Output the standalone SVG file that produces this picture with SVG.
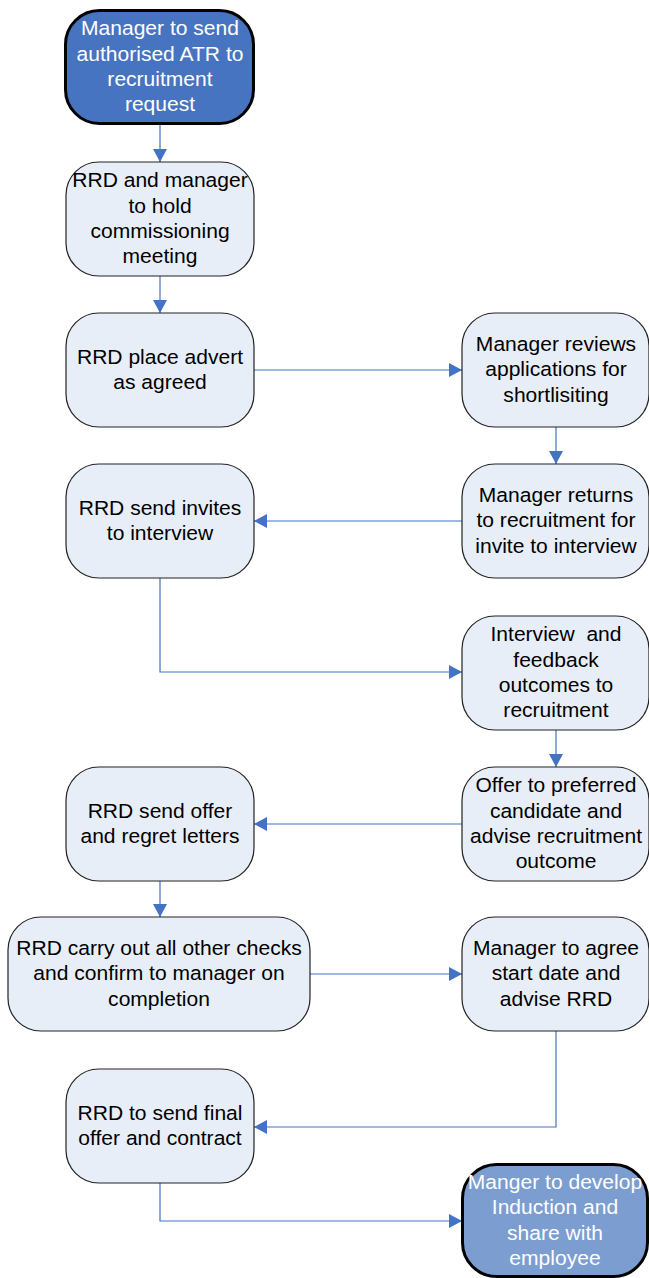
<svg xmlns="http://www.w3.org/2000/svg" width="649" height="1278" viewBox="0 0 649 1278">
<style>
.n{fill:#E8EEF8;stroke:#222;stroke-width:1.2}
.d1{fill:#4774C0;stroke:#000;stroke-width:3}
.d2{fill:#7B9DD0;stroke:#000;stroke-width:3}
text{font-family:"Liberation Sans",Arial,sans-serif;font-size:19.5px;text-anchor:middle;white-space:pre}
.b{fill:#000}
.w{fill:#fff}
.c{fill:none;stroke:#4472C4;stroke-width:1.2;marker-end:url(#ah)}
</style>
<defs>
<marker id="ah" markerUnits="userSpaceOnUse" viewBox="0 0 13 14" refX="13" refY="7" markerWidth="13" markerHeight="14" orient="auto">
<path d="M0,0 L13,7 L0,14 Z" fill="#4472C4"/>
</marker>
</defs>
<rect width="649" height="1278" fill="#fff"/>
<g id="connectors">
<path class="c" d="M160,125 V162"/>
<path class="c" d="M160,276 V313"/>
<path class="c" d="M254,370 H462"/>
<path class="c" d="M556,427 V464"/>
<path class="c" d="M462,521 H254"/>
<path class="c" d="M160,578 V672 H462"/>
<path class="c" d="M556,730 V767"/>
<path class="c" d="M462,824 H254"/>
<path class="c" d="M160,881 V917"/>
<path class="c" d="M310,974 H462"/>
<path class="c" d="M556,1031 V1127 H254"/>
<path class="c" d="M160,1183 V1221 H462"/>
</g>
<g id="n1">
<rect class="d1" x="65.5" y="10.5" width="188" height="113" rx="34"/>
<text class="w" transform="translate(160 0) scale(1.08 1)"><tspan x="0" y="35.5">Manager to send</tspan><tspan x="0" y="60.8">authorised ATR to</tspan><tspan x="0" y="86.1">recruitment</tspan><tspan x="0" y="111.4">request</tspan></text>
</g>
<g id="n2">
<rect class="n" x="66" y="162" width="188" height="114" rx="33"/>
<text class="b" transform="translate(160 0) scale(1.08 1)"><tspan x="0" y="187.5">RRD and manager</tspan><tspan x="0" y="212.8">to hold</tspan><tspan x="0" y="238.1">commissioning</tspan><tspan x="0" y="263.4">meeting</tspan></text>
</g>
<g id="n3">
<rect class="n" x="66" y="313" width="188" height="114" rx="33"/>
<text class="b" transform="translate(160 0) scale(1.08 1)"><tspan x="0" y="363.8">RRD place advert</tspan><tspan x="0" y="389.1">as agreed</tspan></text>
</g>
<g id="n4">
<rect class="n" x="462" y="313" width="187" height="114" rx="33"/>
<text class="b" transform="translate(556 0) scale(1.08 1)"><tspan x="0" y="351.2">Manager reviews</tspan><tspan x="0" y="376.5">applications for</tspan><tspan x="0" y="401.8">shortlisiting</tspan></text>
</g>
<g id="n5">
<rect class="n" x="462" y="464" width="187" height="114" rx="33"/>
<text class="b" transform="translate(556 0) scale(1.08 1)"><tspan x="0" y="502.2">Manager returns</tspan><tspan x="0" y="527.5">to recruitment for</tspan><tspan x="0" y="552.8">invite to interview</tspan></text>
</g>
<g id="n6">
<rect class="n" x="66" y="464" width="188" height="114" rx="33"/>
<text class="b" transform="translate(160 0) scale(1.08 1)"><tspan x="0" y="514.8">RRD send invites</tspan><tspan x="0" y="540.1">to interview</tspan></text>
</g>
<g id="n7">
<rect class="n" x="462" y="616" width="187" height="114" rx="33"/>
<text class="b" transform="translate(556 0) scale(1.08 1)"><tspan x="0" y="641.5">Interview  and</tspan><tspan x="0" y="666.8">feedback</tspan><tspan x="0" y="692.1">outcomes to</tspan><tspan x="0" y="717.4">recruitment</tspan></text>
</g>
<g id="n8">
<rect class="n" x="462" y="767" width="187" height="114" rx="33"/>
<text class="b" transform="translate(556 0) scale(1.08 1)"><tspan x="0" y="792.5">Offer to preferred</tspan><tspan x="0" y="817.8">candidate and</tspan><tspan x="0" y="843.1">advise recruitment</tspan><tspan x="0" y="868.4">outcome</tspan></text>
</g>
<g id="n9">
<rect class="n" x="66" y="767" width="188" height="114" rx="33"/>
<text class="b" transform="translate(160 0) scale(1.08 1)"><tspan x="0" y="817.8">RRD send offer</tspan><tspan x="0" y="843.1">and regret letters</tspan></text>
</g>
<g id="n10">
<rect class="n" x="8" y="917" width="302" height="114" rx="33"/>
<text class="b" transform="translate(159 0) scale(1.08 1)"><tspan x="0" y="955.2">RRD carry out all other checks</tspan><tspan x="0" y="980.5">and confirm to manager on</tspan><tspan x="0" y="1005.8">completion</tspan></text>
</g>
<g id="n11">
<rect class="n" x="462" y="917" width="187" height="114" rx="33"/>
<text class="b" transform="translate(556 0) scale(1.08 1)"><tspan x="0" y="955.2">Manager to agree</tspan><tspan x="0" y="980.5">start date and</tspan><tspan x="0" y="1005.8">advise RRD</tspan></text>
</g>
<g id="n12">
<rect class="n" x="66" y="1069" width="188" height="114" rx="33"/>
<text class="b" transform="translate(160 0) scale(1.08 1)"><tspan x="0" y="1119.8">RRD to send final</tspan><tspan x="0" y="1145.1">offer and contract</tspan></text>
</g>
<g id="n13">
<rect class="d2" x="462.5" y="1164.5" width="185" height="112" rx="34"/>
<text class="w" transform="translate(555 0) scale(1.08 1)"><tspan x="0" y="1189">Manger to develop</tspan><tspan x="0" y="1214.3">Induction and</tspan><tspan x="0" y="1239.6">share with</tspan><tspan x="0" y="1264.9">employee</tspan></text>
</g>
</svg>
